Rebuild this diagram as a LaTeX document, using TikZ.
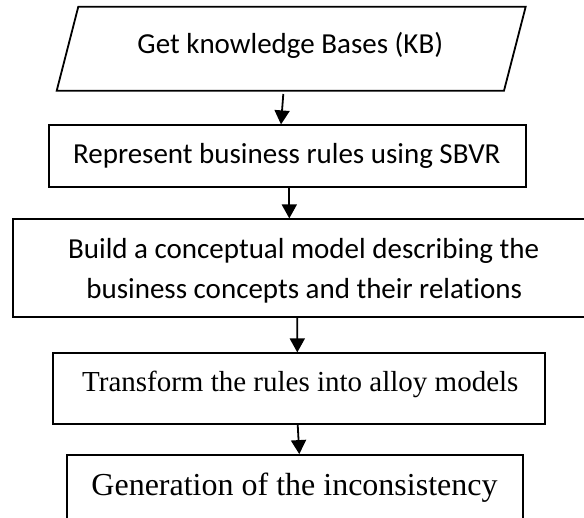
\documentclass[tikz,border=0pt]{standalone}
\usepackage{fontspec}
\newfontfamily\calfont{Carlito}[RawFeature=-liga]
\newfontfamily\tmsfont{Liberation Serif}
\usetikzlibrary{arrows.meta}
\begin{document}
\begin{tikzpicture}[x=1pt,y=1pt,
  boxshape/.style={draw,line width=1.8pt,rectangle,inner sep=0pt},
  caltext/.style={font=\calfont\fontsize{29}{40.7}\selectfont,inner sep=0pt,anchor=base},
  tmstext/.style={font=\tmsfont\fontsize{29}{35}\selectfont,inner sep=0pt,anchor=base},
  flowarrow/.style={line width=1.8pt,-{Triangle[length=14pt,width=15pt]}}]
\clip (0,0) rectangle (584,-518);
\fill[white] (0,0) rectangle (584,-518);
% parallelogram
\coordinate (p1) at (78.3,-6.7);
\coordinate (p2) at (525.7,-6.7);
\coordinate (p3) at (504,-90.7);
\coordinate (p4) at (56.7,-90.7);
\draw[line width=1.8pt,line join=miter] (p1) -- (p2) -- (p3) -- (p4) -- cycle;
\node[caltext] (kbtext) at (290.3,-53.3) {Get knowledge Bases (KB)};
\coordinate (kbout) at (283.3,-94);
% boxes
\node[boxshape,minimum width=476.7pt,minimum height=62pt] (box2) at (287.35,-156.3) {};
\node[caltext] (t2) at (286.8,-164) {Represent business rules using SBVR};
\node[boxshape,minimum width=582.3pt,minimum height=98pt] (box3) at (303.85,-268.3) {};
\node[caltext] (t3a) at (303.7,-258.3) {Build a conceptual model describing the};
\node[caltext] (t3b) at (304.2,-299) {business concepts and their relations};
\node[boxshape,minimum width=491.7pt,minimum height=70.4pt] (box4) at (299.15,-388.5) {};
\node[tmstext] (t4) at (300.3,-391.7) {Transform the rules into alloy models};
\node[boxshape,minimum width=456pt,minimum height=90pt] (box5) at (295.3,-500) {};
\node[tmstext,font=\tmsfont\fontsize{32}{38}\selectfont] (t5) at (294.5,-496) {Generation of the inconsistency};
% arrows
\draw[flowarrow] (kbout) -- ([xshift=-6.35pt]box2.north);
\draw[flowarrow] ([xshift=1.95pt]box2.south) -- ([xshift=-14.55pt]box3.north);
\draw[flowarrow] ([xshift=-6.55pt]box3.south) -- ([xshift=-1.85pt]box4.north);
\draw[flowarrow] ([xshift=-1.45pt]box4.south) -- ([xshift=4pt]box5.north);
\end{tikzpicture}
\end{document}
